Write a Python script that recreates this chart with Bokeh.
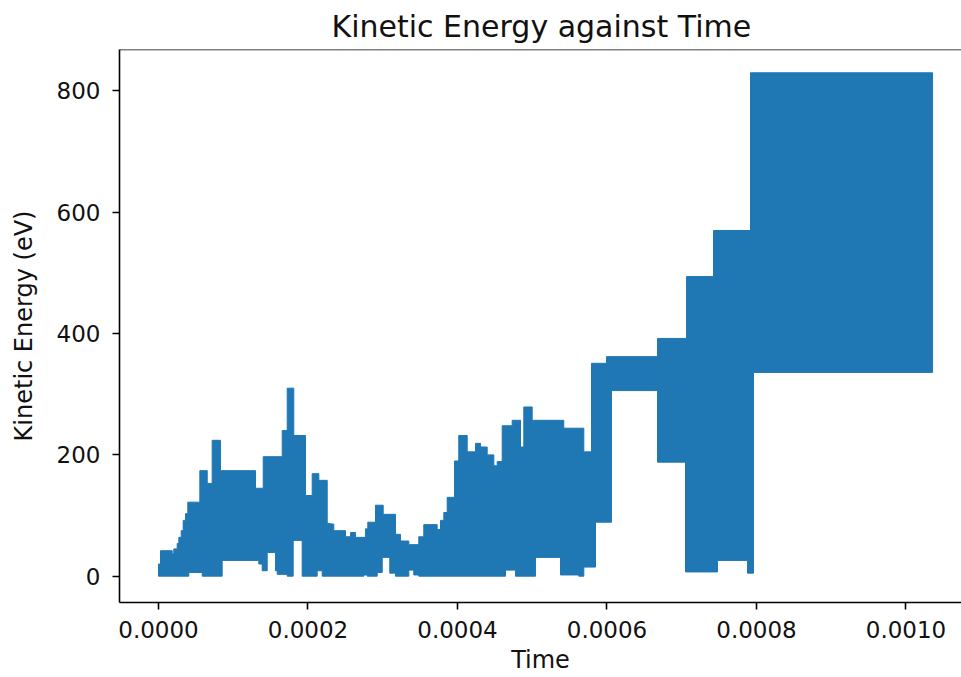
import numpy as np
from bokeh.plotting import figure
from bokeh.models import Range1d, FixedTicker, NumeralTickFormatter, Span
from bokeh.embed import file_html
from bokeh.resources import INLINE

# --- data (time in microseconds, energy in eV) ---
# upper envelope of the oscillating trace: segment boundaries and levels
upper_edges_us = [0, 2.7, 18.3, 20.5, 25.0, 27.2, 30.4, 33.0, 36.1, 39.2, 55.3,
                  65.2, 71.8, 83.0, 129.8, 140.1, 165.5, 172.2, 181.0, 196.7,
                  205.6, 214.5, 225.7, 230.1, 234.5, 250.2, 256.9, 263.6, 276.9,
                  280.0, 290.3, 300.6, 317.1, 323.8, 334.9, 348.2, 354.9, 372.8,
                  377.3, 381.7, 386.2, 396.0, 401.7, 413.0, 424.1, 430.8, 439.7,
                  448.6, 453.1, 459.8, 473.2, 484.3, 488.7, 499.9, 542.2, 569.0,
                  579.3, 599.3, 667.6, 706.4, 742.5, 792.0, 1035.5]
upper_energy = [20, 42, 37, 45, 54, 64, 75, 92, 103, 122,
                174, 153, 224, 174, 145, 197, 240, 310, 232,
                133, 169, 158, 87, 86, 75, 65, 72, 64,
                78, 89, 117, 102, 69, 58, 52, 65, 85,
                77, 92, 105, 130, 190, 232, 205, 219, 213,
                200, 182, 189, 248, 257, 213, 279, 257, 244,
                205, 351, 362, 392, 494, 570, 830]

# lower envelope of the oscillating trace
lower_edges_us = [0, 40.5, 58.5, 85.2, 134.2, 138.7, 145.4, 156.5, 158.8, 172.2,
                  180.2, 192.2, 212.3, 219.0, 274.7, 279.2, 292.6, 299.3, 309.4,
                  317.1, 334.9, 341.5, 348.2, 464.2, 477.6, 504.4, 537.8, 562.3,
                  569.0, 584.6, 606.0, 667.6, 705.0, 747.8, 788.0, 796.0, 1035.5]
lower_energy = [0, 6, 0, 26, 20, 9, 39, 9, 3,
                0, 59, 0, 9, 0, 2, 0, 6, 31,
                5, 0, 10, 2, 0, 10, 0, 31, 2,
                0, 15, 89, 306, 188, 7, 26, 5, 336]

x_ticks = [0.0, 0.0002, 0.0004, 0.0006, 0.0008, 0.0010]
y_ticks = [0, 200, 400, 600, 800]

title_text = "Kinetic Energy against Time"
x_label = "Time"
y_label = "Kinetic Energy (eV)"

# --- one outline polygon: upper envelope forward, lower envelope back ---
xs, ys = [], []
for i, v in enumerate(upper_energy):
    xs += [upper_edges_us[i], upper_edges_us[i + 1]]
    ys += [v, v]
for i in reversed(range(len(lower_energy))):
    xs += [lower_edges_us[i + 1], lower_edges_us[i]]
    ys += [lower_energy[i], lower_energy[i]]
xs = np.array(xs, dtype=float) * 1e-6
ys = np.array(ys, dtype=float)

X0, X1 = -5.217e-5, 1.07425e-3
Y0, Y1 = -43.4, 868.4

FONT = "DejaVu Sans"
BLUE = "#1f77b4"
TXT = "#111111"

p = figure(width=961, height=677, output_backend="svg", toolbar_location=None,
           x_range=Range1d(X0, X1), y_range=Range1d(Y0, Y1),
           title=title_text)
p.min_border_left = 119
p.min_border_right = 0
p.min_border_top = 49
p.min_border_bottom = 75
p.outline_line_color = None
p.background_fill_color = "white"
p.border_fill_color = "white"
p.grid.visible = False

p.title.text_font = FONT
p.title.text_font_size = "30px"
p.title.text_font_style = "normal"
p.title.text_color = TXT
p.title.align = "left"
p.title.offset = 212
p.title.standoff = 12

p.patch(xs, ys, fill_color=BLUE, line_color=BLUE, line_width=1)

for ax in (p.xaxis[0], p.yaxis[0]):
    ax.axis_line_color = "black"
    ax.axis_line_width = 1.6
    ax.major_tick_line_color = "black"
    ax.major_tick_line_width = 1.6
    ax.major_tick_in = 0
    ax.major_tick_out = 7
    ax.minor_tick_line_color = None
    ax.major_label_text_font = FONT
    ax.major_label_text_font_size = "23px"
    ax.major_label_text_color = TXT
    ax.axis_label_text_font = FONT
    ax.axis_label_text_font_size = "24px"
    ax.axis_label_text_font_style = "normal"
    ax.axis_label_text_color = TXT

p.xaxis.ticker = FixedTicker(ticks=x_ticks)
p.xaxis.formatter = NumeralTickFormatter(format="0.0000")
p.xaxis.major_label_standoff = 11
p.xaxis.axis_label = x_label
p.xaxis.axis_label_standoff = 5

p.yaxis.ticker = FixedTicker(ticks=y_ticks)
p.yaxis.major_label_standoff = 12
p.yaxis.axis_label = y_label
p.yaxis.axis_label_standoff = 16

# top spine
p.add_layout(Span(location=Y1, dimension="width", line_color="black", line_width=1.6))

open("out.html", "w").write(file_html(p, INLINE))
